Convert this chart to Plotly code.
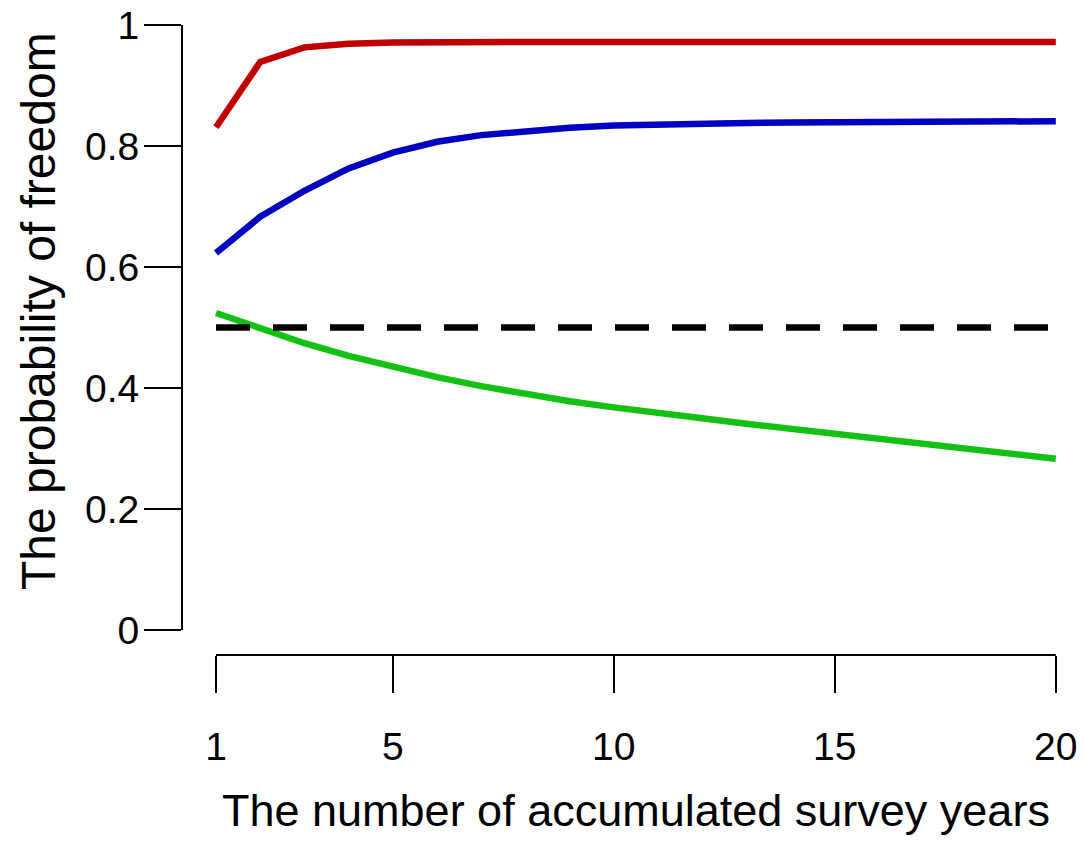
import plotly.graph_objects as go

years = list(range(1, 21))
red_vals = [0.831, 0.939, 0.963, 0.969, 0.971, 0.972, 0.972, 0.972, 0.972, 0.972,
            0.972, 0.972, 0.972, 0.972, 0.972, 0.972, 0.972, 0.972, 0.972, 0.972]
blue_vals = [0.623, 0.683, 0.726, 0.763, 0.789, 0.807, 0.818, 0.825, 0.830, 0.834,
             0.836, 0.837, 0.838, 0.839, 0.839, 0.840, 0.840, 0.840, 0.841, 0.841]
green_vals = [0.524, 0.499, 0.474, 0.453, 0.435, 0.418, 0.403, 0.390, 0.378, 0.368,
              0.358, 0.350, 0.341, 0.333, 0.325, 0.316, 0.308, 0.300, 0.291, 0.283]
threshold = 0.5

x_ticks = [1, 5, 10, 15, 20]
y_ticks = [0, 0.2, 0.4, 0.6, 0.8, 1]
y_tick_text = ["0", "0.2", "0.4", "0.6", "0.8", "1"]

x_title = "The number of accumulated survey years"
y_title = "The probability of freedom"

FONT = "Liberation Sans, Arial, sans-serif"

fig = go.Figure()
fig.add_trace(go.Scatter(x=years, y=red_vals, mode="lines",
                         line=dict(color="#C00000", width=6.5), showlegend=False))
fig.add_trace(go.Scatter(x=years, y=blue_vals, mode="lines",
                         line=dict(color="#0000C0", width=6.5), showlegend=False))
fig.add_trace(go.Scatter(x=years, y=green_vals, mode="lines",
                         line=dict(color="#14C014", width=6.5), showlegend=False))
fig.add_trace(go.Scatter(x=[years[0], years[-1]], y=[threshold, threshold], mode="lines",
                         line=dict(color="black", width=6.5, dash="34px,23px"), showlegend=False))

# detached R-style axis lines
fig.add_shape(type="line", xref="paper", yref="y", x0=0, x1=0, y0=y_ticks[0], y1=y_ticks[-1],
              line=dict(color="black", width=2))
fig.add_shape(type="line", xref="x", yref="paper", x0=x_ticks[0], x1=x_ticks[-1], y0=0, y1=0,
              line=dict(color="black", width=2))

W, H = 1084, 841
L, R, T, B = 182, 0, 3, 186
pxu_x = 44.2
pxu_y = 605.0
x0 = 1 - (216 - L) / pxu_x
x1 = x0 + (W - L - R) / pxu_x
y0 = -(H - B - 630) / pxu_y
y1 = (630 - T) / pxu_y

fig.update_xaxes(range=[x0, x1], tickvals=x_ticks, ticks="outside", ticklen=37, tickwidth=2,
                 tickcolor="black", showgrid=False, zeroline=False, showline=False,
                 tickfont=dict(family=FONT, size=39, color="black"), ticklabelstandoff=20)
fig.update_yaxes(range=[y0, y1], tickvals=y_ticks, ticktext=y_tick_text, ticks="outside",
                 ticklen=37, tickwidth=2, tickcolor="black", showgrid=False, zeroline=False,
                 showline=False, tickfont=dict(family=FONT, size=39, color="black"),
                 ticklabelstandoff=-3)

fig.add_annotation(text=x_title, xref="paper", yref="paper", x=(636 - L) / (W - L - R),
                   y=-(810 - (H - B)) / (H - T - B), xanchor="center", yanchor="middle",
                   showarrow=False, font=dict(family=FONT, size=45, color="black"))
fig.add_annotation(text=y_title, xref="paper", yref="paper", x=-(L - 38) / (W - L - R),
                   y=(H - B - 311) / (H - T - B), xanchor="center", yanchor="middle",
                   textangle=-90, showarrow=False,
                   font=dict(family=FONT, size=48, color="black"))

fig.update_layout(width=W, height=H, margin=dict(l=L, r=R, t=T, b=B),
                  plot_bgcolor="white", paper_bgcolor="white")

fig.write_html("out.html", config={"displayModeBar": False},
               post_script="document.body.style.margin='0';document.body.style.overflow='hidden';")
